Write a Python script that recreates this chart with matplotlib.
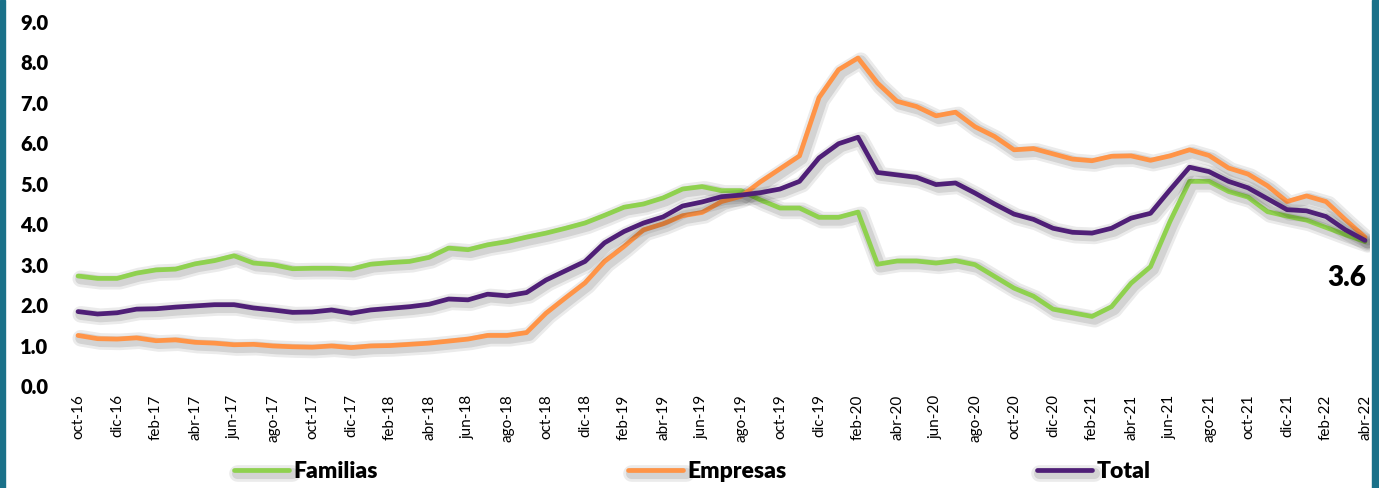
import matplotlib
matplotlib.use('Agg')
import matplotlib.pyplot as plt
import matplotlib.patheffects as pe
from matplotlib.patches import Rectangle

# Monthly series, oct-16 .. abr-22
meses = ['ene', 'feb', 'mar', 'abr', 'may', 'jun', 'jul', 'ago', 'sep', 'oct', 'nov', 'dic']
labels = []
for k in range(67):
    m = (9 + k) % 12
    y = 16 + (9 + k) // 12
    labels.append('{}-{}'.format(meses[m], y))

familias = [2.72, 2.66, 2.66, 2.79, 2.87, 2.89, 3.02, 3.10, 3.22, 3.04, 3.00, 2.90,
            2.91, 2.91, 2.89, 3.01, 3.05, 3.08, 3.18, 3.41, 3.37, 3.49, 3.57, 3.68,
            3.78, 3.90, 4.03, 4.22, 4.42, 4.50, 4.65, 4.87, 4.93, 4.83, 4.83, 4.60,
            4.40, 4.40, 4.17, 4.17, 4.30, 3.01, 3.09, 3.09, 3.04, 3.10, 3.00, 2.71,
            2.42, 2.22, 1.90, 1.81, 1.72, 1.96, 2.54, 2.95, 4.07, 5.06, 5.06, 4.81,
            4.67, 4.31, 4.20, 4.10, 3.92, 3.74, 3.57]
empresas = [1.25, 1.17, 1.16, 1.19, 1.12, 1.14, 1.08, 1.06, 1.02, 1.03, 0.99, 0.97,
            0.96, 0.99, 0.95, 0.99, 1.00, 1.03, 1.06, 1.11, 1.16, 1.25, 1.25, 1.32,
            1.80, 2.18, 2.55, 3.08, 3.45, 3.86, 4.01, 4.21, 4.29, 4.56, 4.69, 5.05,
            5.37, 5.69, 7.13, 7.82, 8.11, 7.49, 7.04, 6.91, 6.68, 6.77, 6.41, 6.17,
            5.84, 5.87, 5.74, 5.61, 5.57, 5.68, 5.69, 5.58, 5.69, 5.84, 5.70, 5.39,
            5.24, 4.95, 4.56, 4.70, 4.56, 4.11, 3.68]
total = [1.84, 1.78, 1.81, 1.90, 1.91, 1.95, 1.98, 2.01, 2.01, 1.93, 1.88, 1.82,
         1.83, 1.88, 1.80, 1.88, 1.92, 1.96, 2.02, 2.15, 2.13, 2.27, 2.23, 2.31,
         2.62, 2.85, 3.08, 3.54, 3.82, 4.03, 4.18, 4.45, 4.55, 4.68, 4.72, 4.78,
         4.87, 5.06, 5.64, 5.99, 6.15, 5.28, 5.22, 5.16, 4.98, 5.02, 4.77, 4.50,
         4.25, 4.12, 3.90, 3.80, 3.78, 3.90, 4.15, 4.27, 4.85, 5.41, 5.30, 5.06,
         4.90, 4.63, 4.36, 4.33, 4.19, 3.86, 3.60]

series = [('Familias', familias, '#8fd14f'),
          ('Empresas', empresas, '#ff9447'),
          ('Total', total, '#4f1f77')]

plt.rcParams['font.family'] = ['Lato', 'DejaVu Sans']

fig = plt.figure(figsize=(13.79, 4.88), dpi=100)
fig.patch.set_facecolor('white')
# teal slide edges
fig.patches.append(Rectangle((0, 0), 5 / 1379, 1, transform=fig.transFigure, color='#1a7189', zorder=0))
fig.patches.append(Rectangle((1372 / 1379, 0), 7 / 1379, 1, transform=fig.transFigure, color='#1a7189', zorder=0))

ax = fig.add_axes([65 / 1379, 1 - 386 / 488, 1305 / 1379, 364 / 488])
x = range(len(labels))
shadow = [pe.SimpleLineShadow(offset=(2, -2), shadow_color='k', alpha=0.08, linewidth=12),
          pe.SimpleLineShadow(offset=(2, -2), shadow_color='k', alpha=0.10, linewidth=8),
          pe.Normal()]
for name, vals, col in series:
    ax.plot(x, vals, color=col, lw=3.4, label=name, solid_capstyle='round',
            solid_joinstyle='round', path_effects=shadow)

ax.set_xlim(-0.667, 66.256)
ax.set_ylim(0, 9)
ax.set_yticks([0, 1, 2, 3, 4, 5, 6, 7, 8, 9])
ax.set_yticklabels(['{:.1f}'.format(v) for v in range(10)], fontsize=14.5, fontweight='heavy')
ax.set_xticks(list(x)[::2])
ax.set_xticklabels(labels[::2], rotation=90, fontsize=11)
ax.tick_params(axis='y', length=0, pad=12)
ax.tick_params(axis='x', length=0, pad=6)
for s in ax.spines.values():
    s.set_visible(False)

ax.annotate('{:.1f}'.format(total[-1]), xy=(66, total[-1]), xytext=(1, -27),
            textcoords='offset points', ha='right', va='center',
            fontsize=20, fontweight='heavy')

fig.legend(loc='center', bbox_to_anchor=(0.502, 1 - 472 / 488), ncol=3, frameon=False,
           prop={'size': 16.5, 'weight': 'heavy'}, handlelength=2.4, handletextpad=0.2,
           columnspacing=10.9)

fig.savefig('out.png', dpi=100)
